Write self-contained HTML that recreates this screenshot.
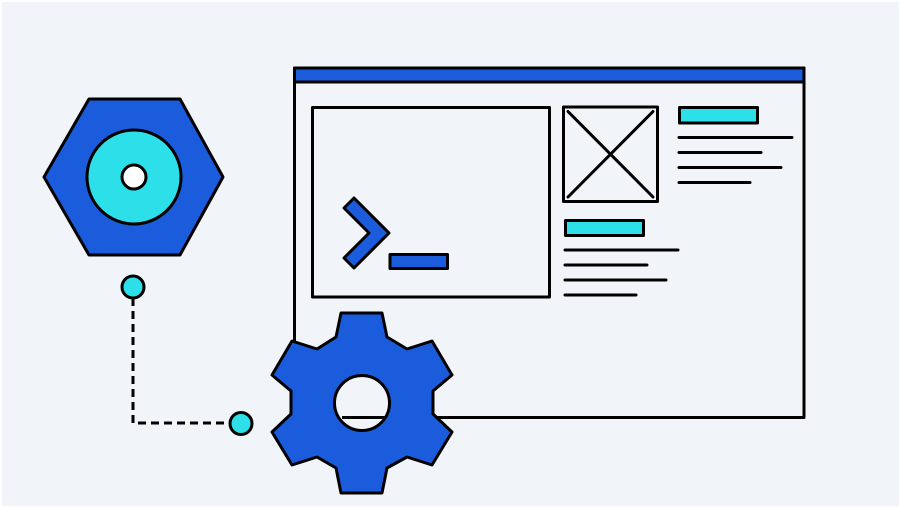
<!DOCTYPE html>
<html><head><style>html,body{margin:0;padding:0;background:#fff}svg{display:block}</style></head>
<body>
<svg width="901" height="508" viewBox="0 0 901 508" xmlns="http://www.w3.org/2000/svg">
<rect x="2" y="2" width="897" height="504" fill="#f1f5f9"/>
<g stroke="#000" stroke-width="3" stroke-linejoin="round" stroke-linecap="round">
<rect x="294.5" y="68" width="509.5" height="349.5" fill="#f1f5f9"/>
<rect x="294.5" y="68" width="509.5" height="14" fill="#1a5cdb"/>
<rect x="312.5" y="107.5" width="237" height="189.5" fill="#f1f5f9"/>
<polygon points="354,198 389,233 354,268 344,258 369,233 344,208" fill="#1a5cdb"/>
<rect x="390" y="254.5" width="57.5" height="14" fill="#1a5cdb"/>
<rect x="563.5" y="107" width="94" height="94.5" fill="#f1f5f9"/>
<line x1="568" y1="111.5" x2="653" y2="197"/>
<line x1="653" y1="111.5" x2="568" y2="197"/>
<rect x="679.5" y="107.5" width="78" height="15.5" fill="#2ddfe9"/>
<line x1="679" y1="137.5" x2="792" y2="137.5"/>
<line x1="679" y1="152.5" x2="761" y2="152.5"/>
<line x1="679" y1="167.5" x2="781" y2="167.5"/>
<line x1="679" y1="182.5" x2="750" y2="182.5"/>
<rect x="565.5" y="220.5" width="78" height="15" fill="#2ddfe9"/>
<line x1="565" y1="250" x2="678" y2="250"/>
<line x1="565" y1="265" x2="647" y2="265"/>
<line x1="565" y1="280" x2="666" y2="280"/>
<line x1="565" y1="295" x2="636" y2="295"/>
<polygon points="44,177 89,99 180,99 223,177 180,255 89,255" fill="#1a5cdb"/>
<circle cx="134" cy="177" r="47" fill="#2ddfe9"/>
<circle cx="134" cy="177" r="12" fill="#fff"/>
<polyline points="133,298 133,423 230,423" fill="none" stroke-dasharray="8,5" stroke-linecap="butt"/>
<circle cx="133" cy="287" r="11" fill="#2ddfe9"/>
<circle cx="241" cy="423.5" r="11" fill="#2ddfe9"/>
<polygon points="341,313 382,313 387,337 407,349 432,341 452,375 433,391 433,414 452,432 432,465 407,457 387,468 382,493 341,493 336,468 317,457 292,465 272,432 291,414 291,391 272,375 292,341 317,349 336,337" fill="#1a5cdb"/>
<circle cx="362" cy="403" r="27.5" fill="#f1f5f9"/>
</g>
<line x1="342" y1="417.5" x2="386" y2="417.5" stroke="#000" stroke-width="3"/>
</svg>
</body></html>
